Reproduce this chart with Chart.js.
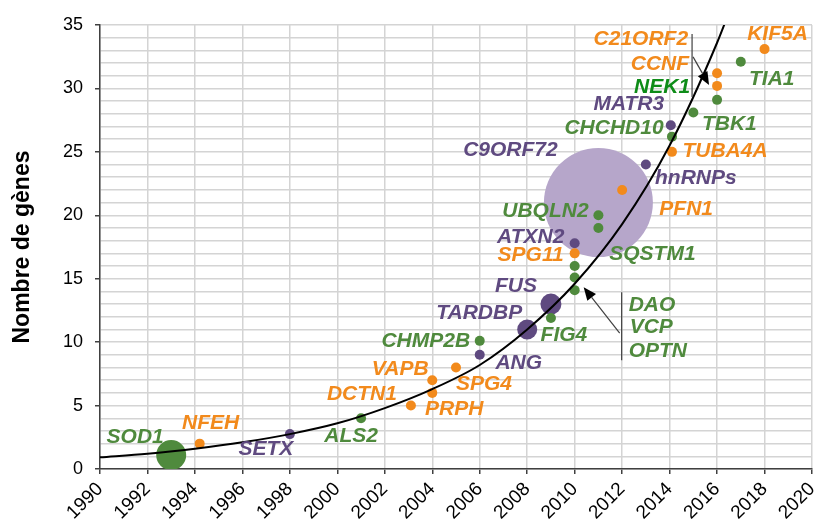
<!DOCTYPE html>
<html>
<head>
<meta charset="utf-8">
<script src="https://cdn.jsdelivr.net/npm/chart.js@4.4.0/dist/chart.umd.min.js"></script>
<style>
  html, body { margin: 0; padding: 0; background: #fff; }
  #chart { display: block; }
</style>
</head>
<body>
<canvas id="chart" width="814" height="524"></canvas>
<script>
// genes and year of discovery / cumulative count
const genes = ['SOD1', 'NFEH', 'SETX', 'ALS2', 'DCTN1', 'PRPH', 'VAPB', 'SPG4', 'ANG', 'CHMP2B',
  'TARDBP', 'FUS', 'FIG4', 'OPTN', 'VCP', 'DAO', 'SPG11', 'ATXN2', 'SQSTM1', 'UBQLN2',
  'C9ORF72', 'PFN1', 'hnRNPs', 'TUBA4A', 'CHCHD10', 'MATR3', 'TBK1', 'NEK1', 'CCNF', 'C21ORF2',
  'TIA1', 'KIF5A'];
const years = [1993, 1994.2, 1998, 2001, 2003.1, 2004, 2004, 2005, 2006, 2006,
  2008, 2009, 2009, 2010, 2010, 2010, 2010, 2010, 2011, 2011,
  2011, 2012, 2013, 2014.1, 2014.1, 2014.05, 2015, 2016, 2016, 2016,
  2017, 2018];
const counts = [1.1, 2, 2.75, 4, 5, 6, 7, 8, 9, 10.1,
  11, 13, 11.9, 14.1, 15.1, 16, 17, 17.8, 19, 20,
  21, 22, 24, 25, 26.2, 27.1, 28.1, 29.1, 30.2, 31.2,
  32.1, 33.1];
const groups = ['green', 'orange', 'purple', 'green', 'orange', 'orange', 'orange', 'orange', 'purple', 'green',
  'purple', 'purple', 'green', 'green', 'green', 'green', 'orange', 'purple', 'green', 'green',
  'lavender', 'orange', 'purple', 'orange', 'green', 'purple', 'green', 'green', 'orange', 'orange',
  'green', 'orange'];

// exponential trend
const trendYears = [1990, 1992, 1994, 1996, 1998, 2000, 2002, 2004, 2006, 2008, 2010, 2012, 2014, 2016, 2017];
const trendValues = [0.92, 1.2, 1.6, 2.1, 2.75, 3.6, 4.8, 6.3, 8.2, 11.0, 14.6, 19.3, 25.5, 33.6, 38.5];

const xTicks = { min: 1990, max: 2020, step: 2 };
const yTicks = { min: 0, max: 35, labelStep: 5 };

// styles
const FONT = '"Liberation Sans", Arial, sans-serif';
const colors = {
  green: '#4f8a3d',
  orange: '#f28a1c',
  purple: '#5f4a80',
  lavender: '#b6a6ca',
};
const labelColorOverride = { NEK1: '#0e8c18' };
const bigRadius = { SOD1: 15, TARDBP: 10, FUS: 10.5, C9ORF72: 54.5 };
const smallRadius = 5;

// label offsets from point in px: [dx, dy, align]
const labelOffsets = {
  SOD1: [-36, -18], NFEH: [11, -20], SETX: [-24, 15], ALS2: [-10, 18],
  DCTN1: [-49, -11], PRPH: [22, 16], VAPB: [-32, -11], SPG4: [28, 17],
  ANG: [39, 8], CHMP2B: [-54, 0], TARDBP: [-48, -16], FUS: [-35, -18],
  FIG4: [13, 17], OPTN: [54, 61, 'left'], VCP: [55, 50, 'left'], DAO: [54, 39, 'left'],
  SPG11: [-44, 2], ATXN2: [-44, -6], SQSTM1: [54, 26], UBQLN2: [-53, -4],
  C9ORF72: [-88, -52], PFN1: [64, 19], hnRNPs: [50, 14], TUBA4A: [53, -1],
  CHCHD10: [-58, -8], MATR3: [-42, -21], TBK1: [36, 12], NEK1: [-27, -13, 'right'],
  CCNF: [-28, -22, 'right'], C21ORF2: [-29, -34, 'right'], TIA1: [31, 17], KIF5A: [13, -15],
};

function groupPoints(name) {
  const pts = [];
  genes.forEach((g, i) => {
    if (groups[i] === name) pts.push({ x: years[i], y: counts[i], gene: g });
  });
  return pts;
}

function pointDataset(name, order) {
  return {
    type: 'scatter',
    data: groupPoints(name),
    backgroundColor: colors[name],
    borderWidth: 0,
    pointRadius: ctx => (ctx.raw && bigRadius[ctx.raw.gene]) || smallRadius,
    pointHoverRadius: ctx => (ctx.raw && bigRadius[ctx.raw.gene]) || smallRadius,
    order,
  };
}

function arrow(ctx, x0, y0, x1, y1) {
  const ang = Math.atan2(y1 - y0, x1 - x0);
  const len = 13, half = 5.5;
  const bx = x1 - len * Math.cos(ang), by = y1 - len * Math.sin(ang);
  ctx.strokeStyle = '#404040';
  ctx.lineWidth = 1.2;
  ctx.beginPath();
  ctx.moveTo(x0, y0);
  ctx.lineTo(bx, by);
  ctx.stroke();
  ctx.fillStyle = '#000';
  ctx.beginPath();
  ctx.moveTo(x1, y1);
  ctx.lineTo(bx + half * Math.sin(ang), by - half * Math.cos(ang));
  ctx.lineTo(bx - half * Math.sin(ang), by + half * Math.cos(ang));
  ctx.closePath();
  ctx.fill();
}

function vline(ctx, x, y0, y1) {
  ctx.strokeStyle = '#404040';
  ctx.lineWidth = 1.2;
  ctx.beginPath();
  ctx.moveTo(x, y0);
  ctx.lineTo(x, y1);
  ctx.stroke();
}

const geneLabels = {
  id: 'geneLabels',
  afterDraw(chart) {
    const { ctx, scales: { x, y } } = chart;
    ctx.save();
    ctx.font = 'italic bold 21px ' + FONT;
    ctx.textBaseline = 'middle';
    genes.forEach((g, i) => {
      const off = labelOffsets[g];
      ctx.fillStyle = labelColorOverride[g] || colors[groups[i] === 'lavender' ? 'purple' : groups[i]];
      ctx.textAlign = off[2] || 'center';
      ctx.fillText(g, x.getPixelForValue(years[i]) + off[0], y.getPixelForValue(counts[i]) + off[1]);
    });

    // DAO / VCP / OPTN bracket and arrow
    const iO = genes.indexOf('OPTN');
    const ox = x.getPixelForValue(years[iO]), oy = y.getPixelForValue(counts[iO]);
    vline(ctx, ox + 47, oy + 2, oy + 70);
    arrow(ctx, ox + 45, oy + 43, ox + 9, oy - 3);

    // C21ORF2 / CCNF / NEK1 bracket and arrow
    const iC = genes.indexOf('CCNF');
    const cx = x.getPixelForValue(years[iC]), cy = y.getPixelForValue(counts[iC]);
    vline(ctx, cx - 25, cy - 52, cy + 11);
    arrow(ctx, cx - 24, cy - 29, cx - 8, cy - 1);
    ctx.restore();
  },
};

new Chart(document.getElementById('chart'), {
  data: {
    datasets: [
      {
        type: 'line',
        data: trendYears.map((yr, i) => ({ x: yr, y: trendValues[i] })),
        borderColor: '#000',
        borderWidth: 2,
        pointRadius: 0,
        cubicInterpolationMode: 'monotone',
        fill: false,
        order: 0,
      },
      pointDataset('green', 1),
      pointDataset('orange', 1),
      pointDataset('purple', 1),
      pointDataset('lavender', 2),
    ],
  },
  options: {
    responsive: false,
    animation: false,
    devicePixelRatio: 1,
    layout: { autoPadding: false, padding: { top: 25, right: 2, left: 0, bottom: 0 } },
    plugins: { legend: { display: false }, tooltip: { enabled: false } },
    scales: {
      x: {
        type: 'linear',
        min: xTicks.min,
        max: xTicks.max,
        ticks: {
          stepSize: xTicks.step,
          autoSkip: false,
          minRotation: 45,
          maxRotation: 45,
          color: '#000',
          padding: 4,
          font: { family: FONT, size: 19 },
          callback: v => String(v),
        },
        grid: { color: '#d4d4d4', lineWidth: 1.5, tickLength: 5, tickColor: '#404040' },
        border: { color: '#404040', width: 1.5 },
        afterFit: s => { s.height = 55; s.paddingRight = 0; s.paddingLeft = 0; },
      },
      y: {
        min: yTicks.min,
        max: yTicks.max,
        ticks: {
          stepSize: 1,
          autoSkip: false,
          color: '#000',
          padding: 12,
          font: { family: FONT, size: 18 },
          callback: v => (v % yTicks.labelStep === 0 ? v : ''),
        },
        grid: {
          color: '#d4d4d4',
          lineWidth: 1.5,
          tickLength: 5,
          tickColor: c => (c.tick && c.tick.value % yTicks.labelStep === 0 ? '#404040' : 'rgba(0,0,0,0)'),
        },
        border: { color: '#404040', width: 1.5 },
        title: {
          display: true,
          text: 'Nombre de gènes',
          color: '#000',
          font: { family: FONT, size: 23, weight: 'bold' },
          padding: { top: 9, bottom: 0 },
        },
        afterFit: s => { s.width = 100; s.paddingTop = 0; s.paddingBottom = 0; },
      },
    },
  },
  plugins: [geneLabels],
});
</script>
</body>
</html>
